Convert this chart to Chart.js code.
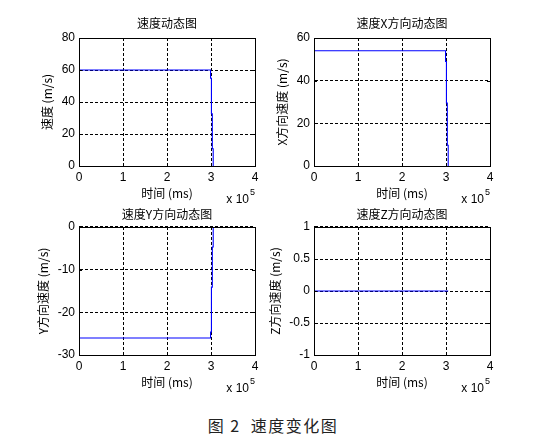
<!DOCTYPE html>
<html>
<head>
<meta charset="utf-8">
<script src="https://cdn.jsdelivr.net/npm/chart.js@4.4.1/dist/chart.umd.min.js"></script>
<style>
  body { margin: 0; background: #fff; width: 544px; height: 448px; position: relative; overflow: hidden; }
  canvas { position: absolute; }
  #caption { position: absolute; left: 0; width: 546px; top: 413px; text-align: center;
             font: 16px "Noto Sans CJK SC", sans-serif; color: #222; white-space: pre; letter-spacing: 1.5px; }
</style>
</head>
<body>
<canvas id="c1"></canvas>
<canvas id="c2"></canvas>
<canvas id="c3"></canvas>
<canvas id="c4"></canvas>
<div id="caption">图 2  速度变化图</div>
<script>
// time in ms, staircase drop after ~3e5 ms
const timeMs = [0, 299000, 299000, 301000, 301000, 303000, 303000, 305000, 305000];
const speed  = [60, 60, 54.8, 54.8, 32.7, 32.7, 10.8, 10.8, 0];
const speedX = [54, 54, 49, 49, 29.5, 29.5, 9.7, 9.7, 0];
const speedY = [-26, -26, -24.6, -24.6, -14.1, -14.1, -4.7, -4.7, 0];
const speedZ = [0, 0, 0, 0, 0, 0, 0, 0, 0];

const titles = ['速度动态图', '速度X方向动态图', '速度Y方向动态图', '速度Z方向动态图'];
const yLabels = ['速度 (m/s)', 'X方向速度 (m/s)', 'Y方向速度 (m/s)', 'Z方向速度 (m/s)'];
const xLabel = '时间 (ms)';
const yRanges = [[0, 80, 20], [0, 60, 20], [-30, 0, 10], [-1, 1, 0.5]];
const xTicks = [0, 1, 2, 3, 4]; // x 10^5

const cjk = '"Noto Sans CJK SC", sans-serif';
const num = '"Liberation Sans", Arial, sans-serif';

// page layout: chart area box [L, T, R, B], title centre y, y-label centre x
const panels = [
  { id: 'c1', area: [79, 38, 255, 166], titleY: 23, ylabX: 47, top: 0 },
  { id: 'c2', area: [314, 38, 490, 166], titleY: 23, ylabX: 282, top: 0 },
  { id: 'c3', area: [79, 227, 255, 355], titleY: 214, ylabX: 43, top: 195 },
  { id: 'c4', area: [314, 227, 490, 355], titleY: 214, ylabX: 275, top: 195 }
];

const boxPlugin = {
  id: 'box',
  afterDraw(chart) {
    const { ctx, chartArea: a, scales } = chart;
    ctx.save();
    ctx.strokeStyle = '#000';
    ctx.lineWidth = 1;
    ctx.setLineDash([]);
    // inward tick marks
    ctx.beginPath();
    scales.x.ticks.forEach(t => {
      const px = Math.round(scales.x.getPixelForValue(t.value)) + 0.5;
      ctx.moveTo(px, a.bottom); ctx.lineTo(px, a.bottom - 3);
      ctx.moveTo(px, a.top); ctx.lineTo(px, a.top + 3);
    });
    scales.y.ticks.forEach(t => {
      const py = Math.round(scales.y.getPixelForValue(t.value)) + 0.5;
      ctx.moveTo(a.left, py); ctx.lineTo(a.left + 3, py);
      ctx.moveTo(a.right, py); ctx.lineTo(a.right - 3, py);
    });
    ctx.stroke();
    ctx.strokeRect(Math.round(a.left) + 0.5, Math.round(a.top) + 0.5,
      Math.round(a.right - a.left), Math.round(a.bottom - a.top));
    // exponent label
    ctx.fillStyle = '#000';
    ctx.font = '12px ' + num;
    ctx.textAlign = 'right';
    ctx.textBaseline = 'middle';
    ctx.fillText('x 10', a.right - 6, a.bottom + 34);
    ctx.font = '9px ' + num;
    ctx.textAlign = 'left';
    ctx.fillText('5', a.right - 5, a.bottom + 27);
    ctx.restore();
  }
};

const series = [speed, speedX, speedY, speedZ];

panels.forEach((p, i) => {
  const [L, T, R, B] = p.area;
  const canvasLeft = p.ylabX - 12;
  const canvasH = 215;
  const w = R + 17 - canvasLeft;
  const el = document.getElementById(p.id);
  el.width = w; el.height = canvasH;
  el.style.left = canvasLeft + 'px';
  el.style.top = p.top + 'px';

  const yW = L - canvasLeft;
  const xH = p.top + canvasH - B;
  const padTop = p.titleY - p.top - 7.2;
  const titleGap = (T - p.top) - padTop - 14.4;
  const xTitlePad = (p.top + canvasH) - (B + 27.5) - 7.2;
  const [ymin, ymax, ystep] = yRanges[i];

  new Chart(el, {
    type: 'line',
    data: {
      datasets: [{
        data: timeMs.map((t, k) => ({ x: t, y: series[i][k] })),
        borderColor: '#0000ff',
        borderWidth: 1.1,
        pointRadius: 0,
        tension: 0,
        fill: false
      }]
    },
    options: {
      responsive: false,
      animation: false,
      devicePixelRatio: 1,
      layout: { padding: { top: padTop, right: 17, left: 0, bottom: 0 } },
      plugins: {
        legend: { display: false },
        tooltip: { enabled: false },
        title: {
          display: true, text: titles[i], fullSize: false, color: '#000',
          font: { family: cjk, size: 12, weight: 'normal' },
          padding: { top: 0, bottom: titleGap }
        }
      },
      scales: {
        x: {
          type: 'linear', min: 0, max: 400000,
          afterBuildTicks: s => { s.ticks = xTicks.map(v => ({ value: v * 1e5 })); },
          afterFit: s => { s.height = xH; },
          ticks: { color: '#000', font: { family: num, size: 12 }, padding: 4,
                   callback: v => String(v / 1e5), maxRotation: 0 },
          grid: { color: '#000', lineWidth: 1, drawTicks: false },
          border: { display: true, color: '#000', width: 1, dash: [3, 2] },
          title: { display: true, text: xLabel, color: '#000',
                   font: { family: cjk, size: 12 }, padding: { top: 0, bottom: xTitlePad } }
        },
        y: {
          type: 'linear', min: ymin, max: ymax,
          ticks: { stepSize: ystep, color: '#000', font: { family: num, size: 12 }, padding: 4,
                   callback: v => String(+v.toFixed(2)) },
          afterFit: s => { s.width = yW; },
          grid: { color: '#000', lineWidth: 1, drawTicks: false },
          border: { display: true, color: '#000', width: 1, dash: [3, 2] },
          title: { display: true, text: yLabels[i], color: '#000',
                   font: { family: cjk, size: 12 }, padding: { top: 4.8, bottom: 0 } }
        }
      }
    },
    plugins: [boxPlugin]
  });
});
</script>
</body>
</html>
